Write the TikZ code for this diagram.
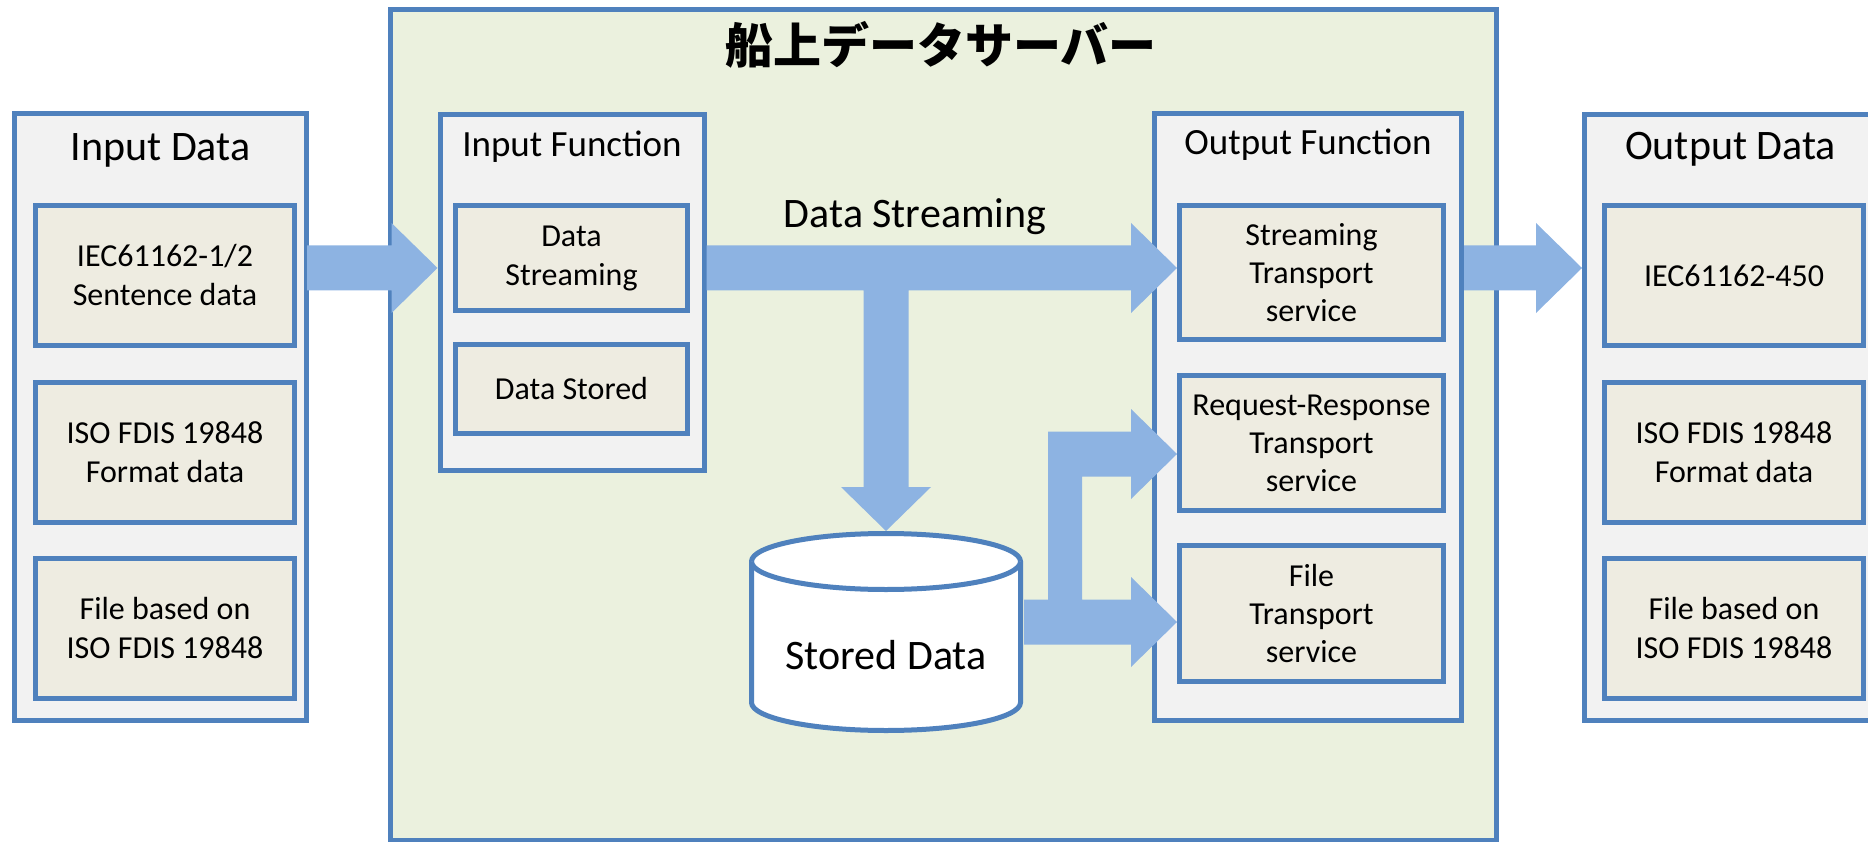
\documentclass[tikz,border=0pt]{standalone}
\usepackage{fontspec}
\setmainfont{Carlito}
\newfontfamily\cjkfont{Noto Sans CJK JP}
\usepackage{tikz}
\usetikzlibrary{positioning, calc}

\definecolor{boxblue}{HTML}{4F81BD}
\definecolor{panelgray}{HTML}{F2F2F2}
\definecolor{itemtan}{HTML}{EEECE1}
\definecolor{servergreen}{HTML}{EBF1DE}
\definecolor{flowblue}{HTML}{8DB3E2}

\begin{document}
\begin{tikzpicture}[x=1pt, y=-1pt,
    panel/.style={draw=boxblue, line width=5pt, fill=panelgray, inner sep=0pt},
    item/.style={draw=boxblue, line width=5pt, fill=itemtan, inner sep=0pt, align=center, font=\fontsize{32}{39}\selectfont},
    heading/.style={font=\fontsize{42}{50}\selectfont},
    subheading/.style={font=\fontsize{37}{44}\selectfont},
    tank/.style={draw=boxblue, line width=5pt, fill=white},
    flow/.style={fill=flowblue}]
    \useasboundingbox (0,0) rectangle (1868,842);
    \draw[line width=5pt, draw=boxblue, fill=servergreen] (390,10) rectangle (1496,840);
    \node[font=\cjkfont\bfseries\fontsize{48}{56}\selectfont] (server) at (941,45) {船上データサーバー};

    \node[panel, minimum width=292, minimum height=607] (indata) at (160.5,417) {};
    \node[heading] (indataT) at (160.5,150) {Input Data};
    \node[item, minimum width=259, minimum height=140] (inA) at (165,275.5) {IEC61162-1/2\\Sentence data};
    \node[item, minimum width=259, minimum height=140] (inB) at (165,452) {ISO FDIS 19848\\Format data};
    \node[item, minimum width=259, minimum height=140] (inC) at (165,628) {File based on\\ISO FDIS 19848};

    \node[panel, minimum width=264, minimum height=356] (infunc) at (572,292.5) {};
    \node[subheading] (infuncT) at (572,147) {Input Function};
    \node[item, minimum width=232, minimum height=105] (inS) at (571.5,258) {Data\\Streaming};
    \node[item, minimum width=232, minimum height=89] (inD) at (571.5,389) {Data Stored};

    \node[panel, minimum width=307, minimum height=607] (outfunc) at (1308,417) {};
    \node[subheading] (outfuncT) at (1308,145) {Output Function};
    \node[item, minimum width=264, minimum height=134, font=\fontsize{32}{38}\selectfont] (outS) at (1311.5,272.5) {Streaming\\Transport\\service};
    \node[item, minimum width=264, minimum height=135, font=\fontsize{32}{38}\selectfont] (outR) at (1311.5,443) {Request-Response\\Transport\\service};
    \node[item, minimum width=264, minimum height=136, font=\fontsize{32}{38}\selectfont] (outF) at (1311.5,613.5) {File\\Transport\\service};

    \node[panel, minimum width=292, minimum height=606] (outdata) at (1730.5,417.5) {};
    \node[heading] (outdataT) at (1730.5,149) {Output Data};
    \node[item, minimum width=259, minimum height=140] (outA) at (1734,275.5) {IEC61162-450};
    \node[item, minimum width=259, minimum height=140] (outB) at (1734,452) {ISO FDIS 19848\\Format data};
    \node[item, minimum width=259, minimum height=140] (outC) at (1734,628) {File based on\\ISO FDIS 19848};

    \filldraw[tank] (751.5,561.5) -- (751.5,702.5) arc[start angle=180, end angle=0, x radius=134.5, y radius=28] -- (1020.5,561.5) arc[start angle=0, end angle=-180, x radius=134.5, y radius=28] -- cycle;
    \draw[tank] (751.5,561.5) arc[start angle=180, end angle=0, x radius=134.5, y radius=28];
    \node[heading] (stored) at (886,655) {Stored Data};
    \coordinate (cyltop) at (886,531);
    \coordinate (cylright) at (1024,622);

    \coordinate (rowA) at (0,268);
    \coordinate (rowB) at (0,454);
    \coordinate (rowC) at (0,622);

    \fill[flow] ($(indata.east |- rowA)+(-2,-22.5)$) -- ($(infunc.west |- rowA)+(-46,-22.5)$) -- ++(0,-22.5) -- (infunc.west |- rowA) -- ++(-46,45) -- ++(0,-22.5) -- ($(indata.east |- rowA)+(-2,22.5)$) -- cycle;
    \fill[flow] ($(infunc.east |- rowA)+(0,-22.5)$) -- ($(outS.west |- rowA)+(-46,-22.5)$) -- ++(0,-22.5) -- (outS.west |- rowA) -- ++(-46,45) -- ++(0,-22.5) -- ($(rowA -| cyltop)+(22.5,22.5)$) -- ($(cyltop)+(22.5,-44)$) -- ++(22.5,0) -- (cyltop) -- ++(-45,-44) -- ++(22.5,0) -- ($(rowA -| cyltop)+(-22.5,22.5)$) -- ($(infunc.east |- rowA)+(0,22.5)$) -- cycle;
    \fill[flow] ($(outfunc.east |- rowA)+(0,-22.5)$) -- ($(outdata.west |- rowA)+(-46,-22.5)$) -- ++(0,-22.5) -- (outdata.west |- rowA) -- ++(-46,45) -- ++(0,-22.5) -- ($(outfunc.east |- rowA)+(0,22.5)$) -- cycle;
    \fill[flow] ($(cylright)+(0,-22.5)$) -- ($(cylright)+(24,-22.5)$) -- ($(outR.west |- rowB)+(-129,-22.5)$) -- ($(outR.west |- rowB)+(-46,-22.5)$) -- ++(0,-22.5) -- (outR.west |- rowB) -- ++(-46,45) -- ++(0,-22.5) -- ($(outR.west |- rowB)+(-95,22.5)$) -- ($(outF.west |- rowC)+(-95,-22.5)$) -- ($(outF.west |- rowC)+(-46,-22.5)$) -- ++(0,-22.5) -- (outF.west |- rowC) -- ++(-46,45) -- ++(0,-22.5) -- ($(cylright)+(0,22.5)$) -- cycle;
    \node[heading] (streamT) at (915,217) {Data Streaming};
\end{tikzpicture}
\end{document}
